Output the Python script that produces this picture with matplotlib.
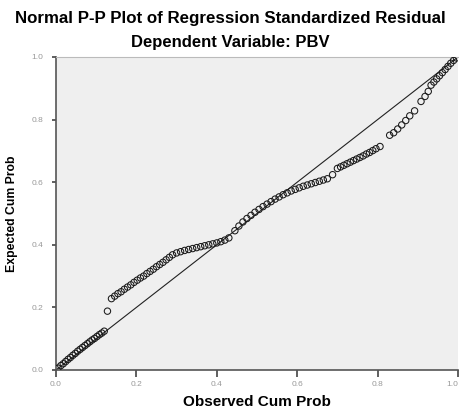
import matplotlib
matplotlib.use("Agg")
import matplotlib.pyplot as plt

# observed vs expected cumulative probabilities
obs_cum = [
    0.005, 0.012, 0.018, 0.024, 0.030, 0.036, 0.042, 0.048, 0.054, 0.060,
    0.066, 0.072, 0.078, 0.084, 0.090, 0.096, 0.102, 0.108, 0.114, 0.120,
    0.128,
    0.138, 0.146, 0.154, 0.162, 0.170, 0.178, 0.186, 0.194, 0.202, 0.210,
    0.218, 0.226, 0.234, 0.242, 0.250, 0.258, 0.266, 0.274, 0.282, 0.290,
    0.300, 0.310, 0.320, 0.330, 0.340, 0.350, 0.360, 0.370, 0.380, 0.390,
    0.400, 0.410, 0.420, 0.430,
    0.445, 0.455, 0.465, 0.475, 0.485, 0.495, 0.505,
    0.515, 0.525, 0.535, 0.545, 0.555, 0.565, 0.575, 0.585, 0.595, 0.605,
    0.615, 0.625, 0.635, 0.645, 0.655, 0.665, 0.675,
    0.688,
    0.700, 0.708, 0.716, 0.724, 0.732, 0.740, 0.748, 0.756, 0.764, 0.772,
    0.780, 0.788, 0.796, 0.806,
    0.830, 0.840, 0.850, 0.860, 0.870, 0.880, 0.892,
    0.908, 0.918, 0.926,
    0.933, 0.940, 0.947, 0.954, 0.961, 0.968, 0.975, 0.982, 0.989, 0.996,
]
exp_cum = [
    0.006, 0.014, 0.020, 0.027, 0.034, 0.040, 0.047, 0.053, 0.060, 0.066,
    0.072, 0.078, 0.084, 0.090, 0.096, 0.101, 0.107, 0.113, 0.118, 0.124,
    0.188,
    0.228, 0.236, 0.244, 0.250, 0.258, 0.265, 0.272, 0.280, 0.287, 0.294,
    0.300, 0.308, 0.315, 0.322, 0.330, 0.337, 0.344, 0.352, 0.360, 0.368,
    0.374, 0.378, 0.382, 0.385, 0.388, 0.391, 0.394, 0.397, 0.400, 0.403,
    0.406, 0.410, 0.415, 0.422,
    0.445, 0.460, 0.473, 0.484, 0.494, 0.504, 0.513,
    0.522, 0.530, 0.538, 0.546, 0.553, 0.560, 0.566, 0.572, 0.577, 0.582,
    0.587, 0.591, 0.595, 0.599, 0.603, 0.607, 0.611,
    0.624,
    0.644, 0.649, 0.654, 0.659, 0.664, 0.669, 0.674, 0.679, 0.684, 0.690,
    0.695, 0.701, 0.707, 0.714,
    0.750, 0.758, 0.770, 0.783, 0.797, 0.812, 0.828,
    0.858, 0.874, 0.890,
    0.910, 0.920, 0.930, 0.940, 0.950, 0.960, 0.970, 0.980, 0.989, 0.997,
]
ticks = [0.0, 0.2, 0.4, 0.6, 0.8, 1.0]
tick_labels = ["0.0", "0.2", "0.4", "0.6", "0.8", "1.0"]

plt.rcParams['font.family'] = ['Liberation Sans', 'DejaVu Sans']

fig = plt.figure(figsize=(4.6, 4.09), dpi=100)
ax = fig.add_axes([56/460, 1 - 370/409, 402/460, 313/409])
ax.set_facecolor("#efefef")

# reference diagonal
ax.plot([0, 1], [0, 1], color="#222222", lw=0.8)
ax.scatter(obs_cum, exp_cum, s=21, facecolors="none", edgecolors="#1a1a1a",
           linewidths=0.75, zorder=3)

ax.set_xlim(0, 1)
ax.set_ylim(0, 1)
ax.set_xticks(ticks)
ax.set_xticklabels(tick_labels, fontsize=6, color="#999999")
ax.get_xticklabels()[-1].set_horizontalalignment("right")
ax.set_yticks(ticks)
ax.set_yticklabels(tick_labels, fontsize=6, color="#999999")
ax.tick_params(axis="x", length=5, width=1.2, color="#444444", pad=3)
ax.tick_params(axis="y", length=3, width=1.2, color="#444444", pad=6)

for side in ["left", "bottom"]:
    ax.spines[side].set_color("#555555")
    ax.spines[side].set_linewidth(1.2)
ax.spines["top"].set_color("#bbbbbb")
ax.spines["right"].set_visible(False)

ax.set_xlabel("Observed Cum Prob", fontsize=11, fontweight="bold", labelpad=5)
ax.set_ylabel("Expected Cum Prob", fontsize=8.8, fontweight="bold", labelpad=10)

fig.text(0.5, 1 - 18/409, "Normal P-P Plot of Regression Standardized Residual",
         ha="center", va="center", fontsize=12.2, fontweight="bold")
fig.text(0.5, 1 - 42/409, "Dependent Variable: PBV",
         ha="center", va="center", fontsize=12, fontweight="bold")

fig.savefig("out.png", dpi=100)
